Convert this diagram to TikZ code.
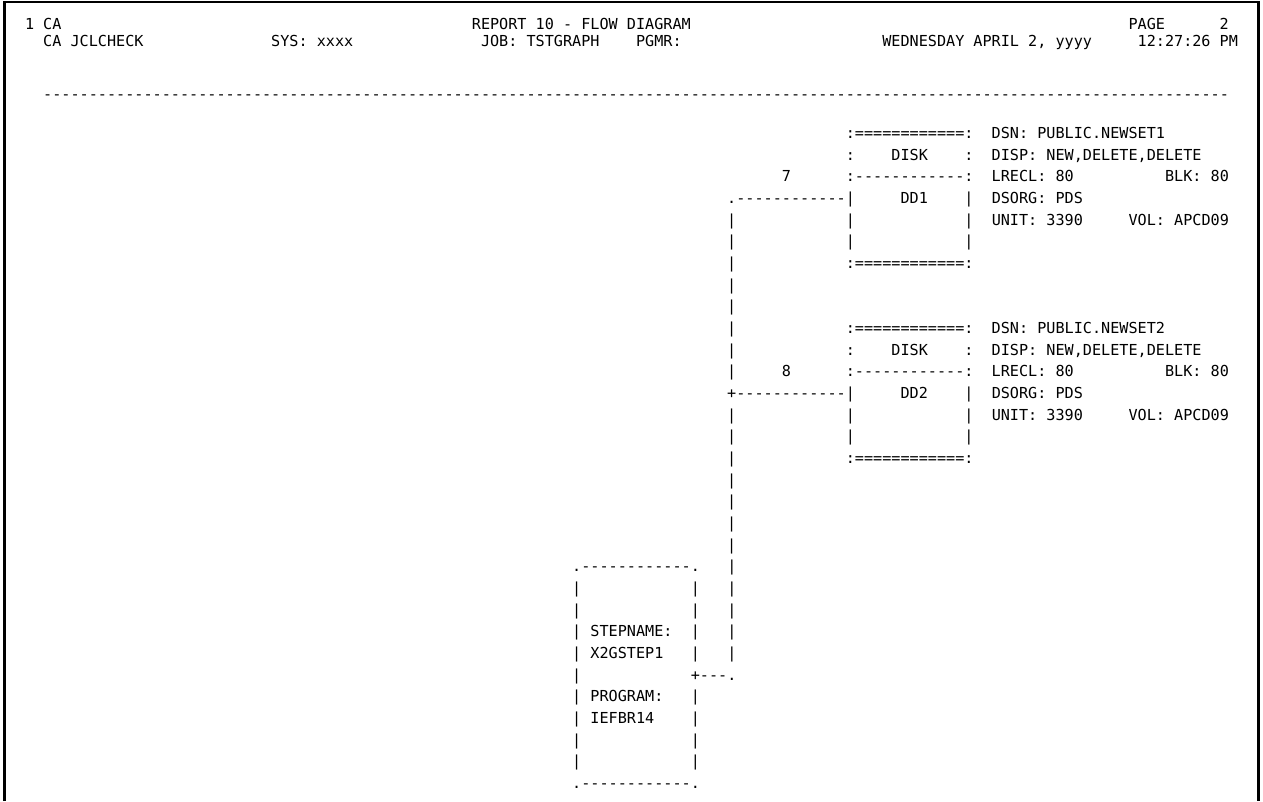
\documentclass[tikz,border=0pt]{standalone}
\usepackage{fontspec}
\setmonofont{DejaVu Sans Mono}
\usepackage{tikz}
\newcommand{\eqrun}{============}
\newcommand{\dashrun}{------------}
\newcommand{\blankrun}{~~~~~~~~~~~~}

\begin{document}
\begin{tikzpicture}[
    txt/.style={anchor=base west, inner sep=0pt, outer sep=0pt, font=\ttfamily\frenchspacing\fontsize{15.15}{18}\selectfont},
    frame/.style={line width=2.7pt, black}
]
    \useasboundingbox (0pt,0pt) rectangle (1263pt,-801pt);
    \draw[frame] (4.7pt,-801pt) |- (1258.7pt,-2pt) -- (1258.7pt,-801pt);

    \begin{scope}[shift={(25pt,-30.15pt)}, x=9.12pt, y=-21.67pt]
    % page header
    \node[txt] (hdrCa) at (0,-0.05) {1~CA};
    \node[txt] (hdrTitle) at (49,-0.05) {REPORT 10 - FLOW DIAGRAM};
    \node[txt] (hdrPage) at (121,-0.05) {PAGE~~~~~~2};
    \node[txt] (hdrProd) at (2,0.75) {CA JCLCHECK};
    \node[txt] (hdrSys) at (27,0.75) {SYS: xxxx};
    \node[txt] (hdrJob) at (50,0.75) {JOB: TSTGRAPH~~~~PGMR:};
    \node[txt] (hdrDate) at (94,0.75) {WEDNESDAY APRIL 2, yyyy};
    \node[txt] (hdrTime) at (122,0.75) {12:27:26 PM};
    \node[txt] (rule) at (2,3.2) {\foreach \i in {1,...,130}{-}};

    % first data set
    \node[txt] (dsnA) at (90,5) {:\eqrun:~~DSN:~PUBLIC.NEWSET1};
    \node[txt] (dispA) at (90,6) {:~~~~DISK~~~~:~~DISP:~NEW,DELETE,DELETE};
    \node[txt] (numA) at (83,7) {7};
    \node[txt] (lreclA) at (90,7) {:\dashrun:~~LRECL:~80~~~~~~~~~~BLK:~80};
    \node[txt] (ddA) at (77,8) {.\dashrun|~~~~~DD1~~~~|~~DSORG:~PDS};
    \node[txt] (unitA) at (77,9) {|\blankrun|\blankrun|~~UNIT:~3390~~~~~VOL:~APCD09};
    \node[txt] (sideA) at (77,10) {|\blankrun|\blankrun|};
    \node[txt] (botA) at (77,11) {|\blankrun:\eqrun:};

    % second data set
    \node[txt] (dsnB) at (77,14) {|\blankrun:\eqrun:~~DSN:~PUBLIC.NEWSET2};
    \node[txt] (dispB) at (77,15) {|\blankrun:~~~~DISK~~~~:~~DISP:~NEW,DELETE,DELETE};
    \node[txt] (lreclB) at (77,16) {|~~~~~8~~~~~~:\dashrun:~~LRECL:~80~~~~~~~~~~BLK:~80};
    \node[txt] (ddB) at (77,17) {+\dashrun|~~~~~DD2~~~~|~~DSORG:~PDS};
    \node[txt] (unitB) at (77,18) {|\blankrun|\blankrun|~~UNIT:~3390~~~~~VOL:~APCD09};
    \node[txt] (sideB) at (77,19) {|\blankrun|\blankrun|};
    \node[txt] (botB) at (77,20) {|\blankrun:\eqrun:};

    \foreach \r in {12,13,21,22,23,24}
        \node[txt] (link\r) at (77,\r) {|};

    % job step
    \node[txt] (stepTop) at (60,25) {.\dashrun.~~~|};
    \node[txt] (stepSideA) at (60,26) {|\blankrun|~~~|};
    \node[txt] (stepSideB) at (60,27) {|\blankrun|~~~|};
    \node[txt] (stepName) at (60,28) {|~STEPNAME:~~|~~~|};
    \node[txt] (stepId) at (60,29) {|~X2GSTEP1~~~|~~~|};
    \node[txt] (stepJoin) at (60,30) {|\blankrun+---.};
    \node[txt] (stepPgm) at (60,31) {|~PROGRAM:~~~|};
    \node[txt] (stepPgmId) at (60,32) {|~IEFBR14~~~~|};
    \node[txt] (stepSideC) at (60,33) {|\blankrun|};
    \node[txt] (stepSideD) at (60,34) {|\blankrun|};
    \node[txt] (stepBot) at (60,35) {.\dashrun.};
    \end{scope}
\end{tikzpicture}
\end{document}
